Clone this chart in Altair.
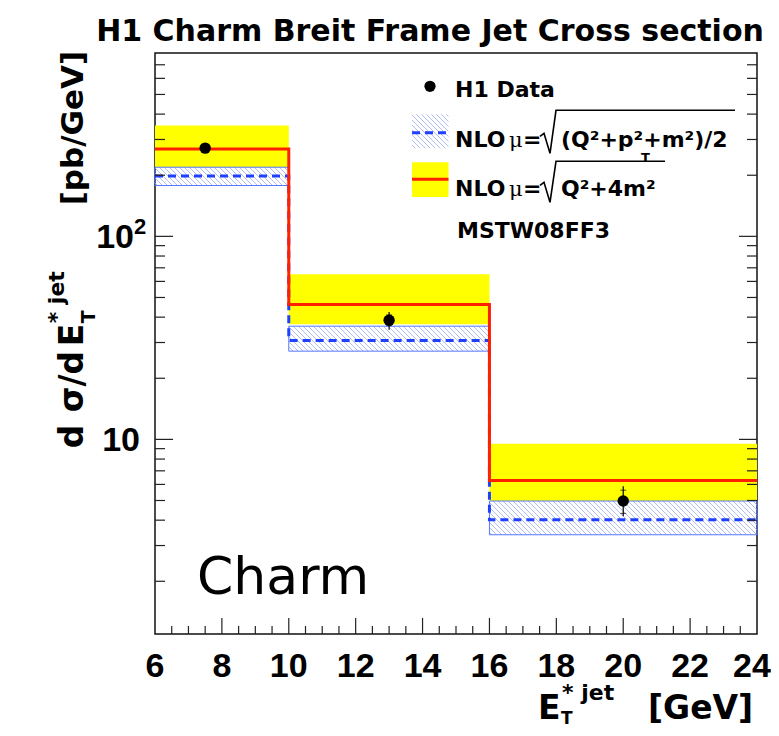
import altair as alt
import pandas as pd
import numpy as np

# ---------------- data ----------------
bin_lo = [6, 10, 16]
bin_hi = [10, 16, 24]
# NLO mu = sqrt(Q^2+4m^2)  (red line + yellow band)
red_val = [269, 46.2, 6.28]
red_lo = [219, 36.9, 4.97]
red_hi = [352, 65.0, 9.52]
# NLO mu = sqrt((Q^2+pT^2+m^2)/2)  (blue dashed + hatched band)
blue_val = [198, 30.7, 4.02]
blue_lo = [178, 27.2, 3.39]
blue_hi = [219, 36.1, 4.97]
# H1 data
data_x = [7.5, 13.0, 20.0]
data_y = [272, 38.6, 4.97]
data_tot_lo = [262, 34.7, 4.18]
data_tot_hi = [283, 42.4, 5.87]
data_stat_lo = [266, 36.3, 4.32]
data_stat_hi = [278, 41.0, 5.62]

x_label_values = [6, 8, 10, 12, 14, 16, 18, 20, 22]
x_label_texts = ["6", "8", "10", "12", "14", "16", "18", "20", "22"]
x_last_value = [24]
x_last_text = ["24"]
y_label_values = [10, 100]
y_label_texts = ["10", "10"]
y_label_sup = ["", "2"]

XMIN, XMAX = 6, 24
YMIN, YMAX = 1.1, 800
W, H = 602, 581
OX, OY = 155, 52.7  # page position of plot origin

FONT = "DejaVu Sans"
LFONT = "Liberation Sans"

xs = alt.Scale(domain=[XMIN, XMAX], nice=False, zero=False)
ys = alt.Scale(type="log", domain=[YMIN, YMAX], nice=False)


def to_px(x):
    return (x - XMIN) / (XMAX - XMIN) * W


def to_py(y):
    return H - (np.log10(y) - np.log10(YMIN)) / (np.log10(YMAX) - np.log10(YMIN)) * H


def from_px(px):
    return XMIN + px / W * (XMAX - XMIN)


def from_py(py):
    return 10 ** (np.log10(YMIN) + (H - py) / H * (np.log10(YMAX) - np.log10(YMIN)))


def hatch_segments(x0, x1, t, b, step=5.0):
    segs = []
    c = np.ceil((t - x1) / step) * step
    while c <= b - x0:
        a = max(x0, t - c)
        e = min(x1, b - c)
        if e > a:
            segs.append((a, a + c, e, e + c))
        c += step
    return segs


def R(px, py):
    return px - OX, py - OY


# ---------------- tables ----------------
bands = pd.DataFrame({"x0": bin_lo, "x1": bin_hi,
                      "rlo": red_lo, "rhi": red_hi,
                      "blo": blue_lo, "bhi": blue_hi})
red_step = pd.DataFrame({"x": bin_lo + [bin_hi[-1]], "y": red_val + [red_val[-1]]})
blue_step = pd.DataFrame({"x": bin_lo + [bin_hi[-1]], "y": blue_val + [blue_val[-1]]})
pts = pd.DataFrame({"x": data_x, "y": data_y, "tlo": data_tot_lo, "thi": data_tot_hi,
                    "slo": data_stat_lo, "shi": data_stat_hi})

rows = []
for x0, x1, lo, hi in zip(bin_lo, bin_hi, blue_lo, blue_hi):
    for (ax, ay, ex, ey) in hatch_segments(to_px(x0), to_px(x1), to_py(hi), to_py(lo)):
        rows.append({"x": from_px(ax), "y": from_py(ay), "x2": from_px(ex), "y2": from_py(ey)})
hatch = pd.DataFrame(rows)

y_minor = [v * m for m in (1, 10, 100) for v in range(2, 10) if 1.1 < v * m < 800]
y_major = [10, 100]
x_minor = [6 + 0.5 * i for i in range(1, 36) if (6 + 0.5 * i) % 2 != 0]
x_major = [8, 10, 12, 14, 16, 18, 20, 22]

X = lambda f: alt.X(f, scale=xs, axis=None)
Y = lambda f: alt.Y(f, scale=ys, axis=None)
XP = lambda f: alt.X(f, scale=None, axis=None)
YP = lambda f: alt.Y(f, scale=None, axis=None)

base = alt.Chart(bands)
yellow = base.mark_rect(color="#ffff00").encode(x=X("x0:Q"), x2="x1:Q", y=Y("rlo:Q"), y2="rhi:Q")
blue_band = base.mark_rect(fillOpacity=0, stroke="#5577ff", strokeWidth=1).encode(
    x=X("x0:Q"), x2="x1:Q", y=Y("blo:Q"), y2="bhi:Q")
hatch_l = alt.Chart(hatch).mark_rule(color="#aab6f2", strokeWidth=0.9).encode(
    x=X("x:Q"), y=Y("y:Q"), x2="x2:Q", y2="y2:Q")
blue_line = alt.Chart(blue_step).mark_line(interpolate="step-after", color="#1f3fff",
                                           strokeWidth=3, strokeDash=[8, 5]).encode(x=X("x:Q"), y=Y("y:Q"))
red_line = alt.Chart(red_step).mark_line(interpolate="step-after", color="#ff2000",
                                         strokeWidth=3).encode(x=X("x:Q"), y=Y("y:Q"))
err = alt.Chart(pts).mark_rule(color="black", strokeWidth=1.2).encode(x=X("x:Q"), y=Y("tlo:Q"), y2="thi:Q")
cap_lo = alt.Chart(pts).mark_tick(color="black", orient="horizontal", size=6, thickness=1).encode(
    x=X("x:Q"), y=Y("slo:Q"))
cap_hi = alt.Chart(pts).mark_tick(color="black", orient="horizontal", size=6, thickness=1).encode(
    x=X("x:Q"), y=Y("shi:Q"))
dots = alt.Chart(pts).mark_point(filled=True, shape="circle", size=130, color="black", opacity=1).encode(
    x=X("x:Q"), y=Y("y:Q"))

# ROOT style inward ticks
tk = dict(color="#222", strokeWidth=1.2)
ytm = pd.DataFrame({"y": y_minor}); ytM = pd.DataFrame({"y": y_major})
xtm = pd.DataFrame({"x": x_minor}); xtM = pd.DataFrame({"x": x_major})
yl_min = alt.Chart(ytm).mark_rule(**tk).encode(y=Y("y:Q"), x=alt.value(0), x2=alt.value(10))
yl_maj = alt.Chart(ytM).mark_rule(**tk).encode(y=Y("y:Q"), x=alt.value(0), x2=alt.value(18))
yr_min = alt.Chart(ytm).mark_rule(**tk).encode(y=Y("y:Q"), x=alt.value(W), x2=alt.value(W - 10))
yr_maj = alt.Chart(ytM).mark_rule(**tk).encode(y=Y("y:Q"), x=alt.value(W), x2=alt.value(W - 18))
xb_min = alt.Chart(xtm).mark_rule(**tk).encode(x=X("x:Q"), y=alt.value(H), y2=alt.value(H - 8))
xb_maj = alt.Chart(xtM).mark_rule(**tk).encode(x=X("x:Q"), y=alt.value(H), y2=alt.value(H - 16))

# tick labels (through the scales)
xlab = alt.Chart(pd.DataFrame({"v": x_label_values, "t": x_label_texts})).mark_text(
    font=LFONT, fontWeight="bold", fontSize=34, align="center", baseline="alphabetic", color="black").encode(
    x=X("v:Q"), y=alt.value(677 - OY), text="t:N")
xlab_last = alt.Chart(pd.DataFrame({"v": x_last_value, "t": x_last_text})).mark_text(
    font=LFONT, fontWeight="bold", fontSize=34, align="center", baseline="alphabetic", dx=-5,
    color="black").encode(x=X("v:Q"), y=alt.value(677 - OY), text="t:N")
ylab_df = pd.DataFrame({"v": y_label_values, "t": y_label_texts, "s": y_label_sup,
                        "px": [140 - OX if s == "" else 134 - OX for s in y_label_sup]})
ylab = alt.Chart(ylab_df).mark_text(
    font=LFONT, fontWeight="bold", fontSize=34, align="right", baseline="alphabetic", dy=12,
    color="black").encode(y=Y("v:Q"), x=XP("px:Q"), text="t:N")
ysup = alt.Chart(ylab_df).mark_text(
    font=LFONT, fontWeight="bold", fontSize=22, align="left", baseline="alphabetic", dy=-2,
    color="black").encode(y=Y("v:Q"), x=XP("px:Q"), text="s:N")

# ---------------- legend ----------------
a, b = R(412, 162); c, d = R(448.5, 196.7)
leg_yellow = alt.Chart(pd.DataFrame([{"x": a, "y": b, "x2": c, "y2": d}])).mark_rect(color="#ffff00").encode(
    x=XP("x:Q"), y=YP("y:Q"), x2="x2:Q", y2="y2:Q")
hrows = [{"x": ax, "y": ay, "x2": ex, "y2": ey}
         for (ax, ay, ex, ey) in hatch_segments(412 - OX, 448.5 - OX, 114 - OY, 148 - OY)]
leg_hatch = alt.Chart(pd.DataFrame(hrows)).mark_rule(color="#aab6f2", strokeWidth=0.9).encode(
    x=XP("x:Q"), y=YP("y:Q"), x2="x2:Q", y2="y2:Q")
leg_red = alt.Chart(pd.DataFrame([{"x": 412 - OX, "x2": 448.5 - OX, "y": 179 - OY}])).mark_rule(
    color="#ff2000", strokeWidth=3).encode(x=XP("x:Q"), x2="x2:Q", y=YP("y:Q"))
leg_blue = alt.Chart(pd.DataFrame([{"x": 412 - OX, "x2": 448.5 - OX, "y": 132.5 - OY}])).mark_rule(
    color="#1f3fff", strokeWidth=3, strokeDash=[8, 5]).encode(x=XP("x:Q"), x2="x2:Q", y=YP("y:Q"))
leg_dot = alt.Chart(pd.DataFrame([{"x": 430 - OX, "y": 86 - OY}])).mark_point(
    filled=True, shape="circle", size=125, color="black", opacity=1).encode(x=XP("x:Q"), y=YP("y:Q"))

sq = []
for g, pts_ in enumerate([[(540, 136), (544, 133), (550, 153), (556, 110), (735, 110)],
                          [(540, 185), (544, 182), (550, 202), (556, 161), (665, 161)]]):
    for i, (px, py) in enumerate(pts_):
        a, b = R(px, py)
        sq.append({"g": g, "i": i, "x": a, "y": b})
sqrt_l = alt.Chart(pd.DataFrame(sq)).mark_line(color="black", strokeWidth=1.6).encode(
    x=XP("x:Q"), y=YP("y:Q"), detail="g:N", order="i:Q")

bold_txt = []


def addt(lst, t, px, py, s):
    a, b = R(px, py)
    lst.append({"t": t, "x": a, "y": b, "s": s})


addt(bold_txt, "H1 Data", 455, 97, 22)
addt(bold_txt, "NLO", 455, 147, 22)
addt(bold_txt, "=", 523, 147, 22)
addt(bold_txt, "(Q²+p²+m²)/2", 561, 147, 22)
addt(bold_txt, "T", 641, 162, 13)
addt(bold_txt, "NLO", 455, 196, 22)
addt(bold_txt, "=", 523, 196, 22)
addt(bold_txt, "Q²+4m²", 561, 196, 22)
addt(bold_txt, "MSTW08FF3", 457, 238, 22)
# x-axis title
addt(bold_txt, "E", 538, 719, 33)
addt(bold_txt, "T", 561, 724, 17)
addt(bold_txt, "* jet", 562, 700, 22)
addt(bold_txt, "[GeV]", 648, 719, 33)

txt_bold = alt.Chart(pd.DataFrame(bold_txt)).mark_text(
    font=FONT, fontWeight="bold", align="left", baseline="alphabetic", color="black").encode(
    x=XP("x:Q"), y=YP("y:Q"), size=alt.Size("s:Q", scale=None, legend=None), text="t:N")

mu_txt = []
addt(mu_txt, "μ", 509, 147, 21)
addt(mu_txt, "μ", 509, 196, 21)
txt_mu = alt.Chart(pd.DataFrame(mu_txt)).mark_text(
    font="DejaVu Serif", align="left", baseline="alphabetic", color="black").encode(
    x=XP("x:Q"), y=YP("y:Q"), size=alt.Size("s:Q", scale=None, legend=None), text="t:N")

rot_txt = []
addt(rot_txt, "d", 83, 448, 33)
addt(rot_txt, "σ/d", 83, 412, 33)
addt(rot_txt, "E", 83, 346, 33)
addt(rot_txt, "T", 95, 323, 19)
addt(rot_txt, "* jet", 64, 323, 22)
addt(rot_txt, "[pb/GeV]", 83, 205, 31)
txt_rot = alt.Chart(pd.DataFrame(rot_txt)).mark_text(
    font=FONT, fontWeight="bold", align="left", baseline="alphabetic", angle=270, color="black").encode(
    x=XP("x:Q"), y=YP("y:Q"), size=alt.Size("s:Q", scale=None, legend=None), text="t:N")

title_df = pd.DataFrame([{"t": "H1 Charm Breit Frame Jet Cross section", "x": 430 - OX, "y": 41 - OY}])
txt_title = alt.Chart(title_df).mark_text(
    font=FONT, fontWeight="bold", fontSize=30, align="center", baseline="alphabetic", color="black").encode(
    x=XP("x:Q"), y=YP("y:Q"), text="t:N")

charm_df = pd.DataFrame([{"t": "Charm", "x": 197 - OX, "y": 594 - OY}])
txt_charm = alt.Chart(charm_df).mark_text(
    font=FONT, fontWeight="normal", fontSize=52, align="left", baseline="alphabetic", color="black").encode(
    x=XP("x:Q"), y=YP("y:Q"), text="t:N")

chart = alt.layer(
    yellow, hatch_l, blue_band, blue_line, red_line,
    yl_min, yl_maj, yr_min, yr_maj, xb_min, xb_maj,
    err, cap_lo, cap_hi, dots,
    xlab, xlab_last, ylab, ysup,
    leg_yellow, leg_hatch, leg_red, leg_blue, leg_dot, sqrt_l,
    txt_bold, txt_mu, txt_rot, txt_title, txt_charm,
).properties(
    width=W, height=H,
    autosize=alt.AutoSizeParams(type="none"),
    padding={"left": 147, "top": 45, "right": 14, "bottom": 94},
    background="white",
).configure_view(stroke="#111", strokeWidth=1.5)

chart.save("out.html", embed_options={"renderer": "svg", "actions": False})
